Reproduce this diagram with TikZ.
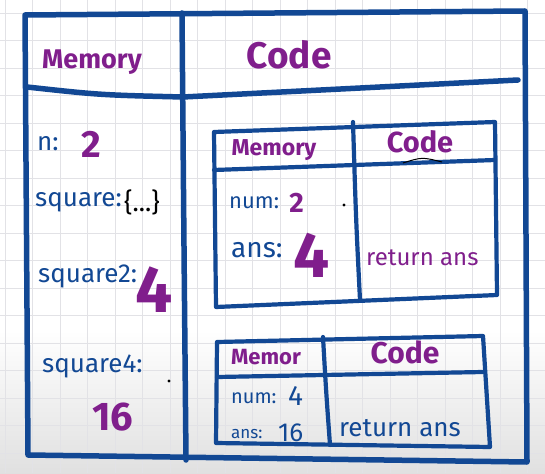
\documentclass[tikz,border=0pt]{standalone}
\usepackage{fontspec}
\setmainfont{Fira Sans}
\usepackage{tikz}
\usetikzlibrary{positioning, calc}
\definecolor{penblue}{RGB}{18, 72, 148}
\definecolor{penpurple}{RGB}{128, 30, 140}
\definecolor{gridgray}{RGB}{226, 226, 230}
\newcommand{\fsz}[1]{\fontsize{#1}{#1}\selectfont}

\begin{document}
\begin{tikzpicture}[x=1pt, y=-1pt,
    pen/.style={draw=penblue, line width=5.5pt, line cap=round, line join=round},
    thinpen/.style={draw=penblue, line width=4.2pt, line cap=round, line join=round},
    varname/.style={text=penblue, inner sep=0pt, anchor=west},
    varval/.style={text=penpurple, inner sep=0pt, anchor=west, font=\bfseries},
    heading/.style={text=penpurple, inner sep=0pt, font=\bfseries}]
    % paper
    \useasboundingbox (0,0) rectangle (545,473);
    \fill[white] (0,0) rectangle (545,473);
    \shade[top color=white, bottom color=black!12] (0,330) rectangle (545,473);
    \foreach \gx in {5,32.5,...,545}
        \draw[gridgray, line width=0.8pt] (\gx,0) -- (\gx,473);
    \foreach \gy in {13,40.5,...,473}
        \draw[gridgray, line width=0.8pt] (0,\gy) -- (545,\gy);

    % outer frame
    \draw[pen] (25,15) -- (525,11) -- (527,462) -- (28,455) -- cycle;
    \draw[pen] (27,87) .. controls (100,95) .. (183,97) -- (518,80);
    \draw[pen] (182,13) .. controls (184,250) .. (186,460);
    \node[heading] (memhead) at (92,62) {\fsz{27}Memory};
    \node[heading] (codehead) at (289,55) {\fsz{37}Code};

    % global memory
    \node[varname] (nlabel) at (37,144) {\fsz{26}n:};
    \node[varval, right=22pt of nlabel] (nval) {\fsz{38}2};
    \node[varname] (sqlabel) at (35,202) {\fsz{26}square:};
    \node[inner sep=0pt, anchor=west, right=2pt of sqlabel] (sqbody) {\fsz{26}\{...\}};
    \node[varname] (sqtwolabel) at (38,276) {\fsz{26}square2:};
    \node[varval] (sqtwoval) at (135,290) {\fsz{66}4};
    \node[varname] (sqfourlabel) at (42,366) {\fsz{26}square4:};
    \node[varval] (sqfourval) at (92,417) {\fsz{40}16};
    \fill (169,381) circle (1.6pt);

    % first call frame
    \draw[thinpen] (214,132) -- (495,122) -- (497,295) -- (216,307) -- cycle;
    \draw[thinpen] (214,170) -- (495,160);
    \draw[thinpen] (353,122) .. controls (356,220) .. (360,300);
    \draw[line width=1pt] (403,163) .. controls (422,157) .. (442,162);
    \node[heading] (firstmem) at (274,150) {\fsz{23}Memory};
    \node[heading] (firstcode) at (420,142) {\fsz{29}Code};
    \node[varname] (firstnum) at (229,203) {\fsz{22}num:};
    \node[varval, right=10pt of firstnum] (firstnumval) {\fsz{28}2};
    \fill (344,205) circle (1.6pt);
    \node[varname] (firstans) at (231,250) {\fsz{28}ans:};
    \node[varval] (firstansval) at (293,255) {\fsz{64}4};
    \node[varval, font=\mdseries] (firstret) at (366,258) {\fsz{24}return ans};

    % second call frame
    \draw[thinpen] (217,342) -- (483,336) -- (490,447) -- (216,443) -- cycle;
    \draw[thinpen] (217,377) -- (483,372);
    \draw[thinpen] (323,337) .. controls (326,390) .. (330,445);
    \node[heading] (secondmem) at (266,357) {\fsz{22}Memor};
    \node[heading] (secondcode) at (405,352) {\fsz{30}Code};
    \node[varname] (secondnum) at (231,398) {\fsz{20}num:};
    \node[varname] (secondnumval) at (288,396) {\fsz{28}4};
    \node[varname] (secondans) at (231,434) {\fsz{17}ans:};
    \node[varname] (secondansval) at (278,433) {\fsz{26}16};
    \node[varname] (secondret) at (339,428) {\fsz{26}return ans};
\end{tikzpicture}
\end{document}
